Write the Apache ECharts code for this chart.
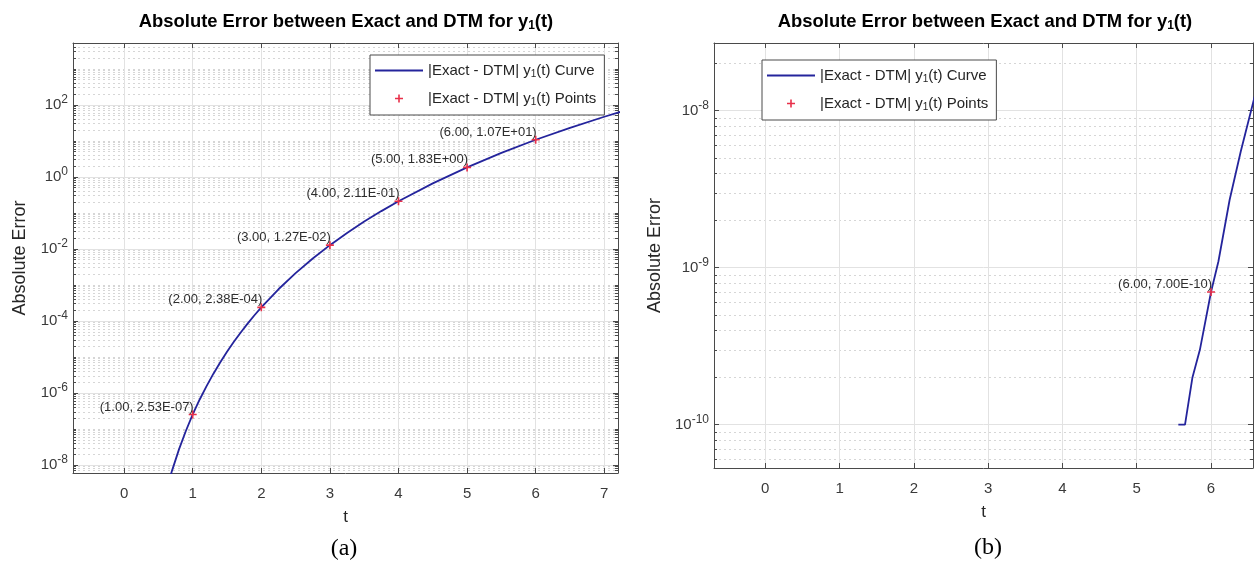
<!DOCTYPE html>
<html>
<head>
<meta charset="utf-8">
<script src="https://cdn.jsdelivr.net/npm/echarts@6/dist/echarts.min.js"></script>
<style>
  html, body { margin: 0; padding: 0; background: #fff; }
  #chart { width: 1254px; height: 563px; }
</style>
</head>
<body>
<div id="chart"></div>
<script>
// Panel (a): |Exact - DTM| error of y1(t) over the whole interval
const tCurveA = [0.65, 0.7, 0.8, 0.9, 1.0, 1.1, 1.2, 1.3, 1.4, 1.5, 1.6, 1.7, 1.8, 1.9, 2.0,
                 2.25, 2.5, 2.75, 3.0, 3.25, 3.5, 3.75, 4.0, 4.5, 5.0, 5.5, 6.0, 6.5, 7.0, 7.25];
const errCurveA = [3.4e-9, 7.1e-9, 2.72e-8, 8.8e-8, 2.53e-7, 6.49e-7, 1.53e-6, 3.38e-6, 7.03e-6, 1.39e-5,
                   2.63e-5, 4.79e-5, 8.41e-5, 1.44e-4, 2.38e-4,
                   7.57e-4, 2.13e-3, 5.42e-3, 1.27e-2, 2.77e-2, 5.73e-2, 0.112, 0.211, 0.659, 1.83,
                   4.61, 10.7, 23.0, 46.6, 65.2];
const tPointsA = [1, 2, 3, 4, 5, 6];
const errPointsA = [2.53e-7, 2.38e-4, 1.27e-2, 2.11e-1, 1.83, 10.7];

// Panel (b): the same error near the 1e-10 level
const tCurveB = [5.56, 5.65, 5.75, 5.85, 6.0, 6.1, 6.25, 6.4, 6.6];
const errCurveB = [1e-10, 1e-10, 2e-10, 3e-10, 7e-10, 1.1e-9, 2.7e-9, 5.5e-9, 1.3e-8];
const tPointsB = [6];
const errPointsB = [7.00e-10];

// Tick positions
const xTicksA = [0, 1, 2, 3, 4, 5, 6, 7];
const xTicksB = [0, 1, 2, 3, 4, 5, 6];
const yTicksA = [1e-8, 1e-6, 1e-4, 1e-2, 1, 1e2];
const yTicksB = [1e-10, 1e-9, 1e-8];

const curveName = '|Exact - DTM| y1(t) Curve';
const pointsName = '|Exact - DTM| y1(t) Points';
const titleText = 'Absolute Error between Exact and DTM for y{sub|1}(t)';

const FONT = '"Liberation Sans", Arial, Helvetica, sans-serif';
const axisColor = '#4a4a4a';
const labelColor = '#3a3a3a';
const majorGrid = '#e2e2e2';
const minorGrid = '#d6d6d6';
const curveColor = '#24249c';
const pointColor = '#e8304a';
const plusPath = 'path://M3.2,0h1.6v8h-1.6z M0,3.2h8v1.6h-8z';
const lineIcon = 'path://M0,0h48v1.8h-48z';

// log-axis minor grid positions (2..9 x 10^k plus unlabelled decades)
function minorValues(lo, hi, majors) {
  const out = [];
  for (let k = Math.floor(Math.log10(lo)); k <= Math.ceil(Math.log10(hi)); k++) {
    for (let m = 1; m <= 9; m++) {
      const v = m * Math.pow(10, k);
      if (v >= lo && v <= hi && !majors.some(x => Math.abs(x / v - 1) < 1e-9)) out.push(v);
    }
  }
  return out;
}

function sciLabel(t, v) {
  const s = v.toExponential(2).toUpperCase();
  const [mant, exp] = s.split('E');
  const e = parseInt(exp, 10);
  const es = (e < 0 ? '-' : '+') + String(Math.abs(e)).padStart(2, '0');
  return '(' + t.toFixed(2) + ', ' + mant + 'E' + es + ')';
}

function pairs(xs, ys) { return xs.map((x, i) => [x, ys[i]]); }

const powRich = {
  base: { fontSize: 15, fontFamily: FONT, color: labelColor },
  sup: { fontSize: 12, fontFamily: FONT, color: labelColor, padding: [0, 0, 10, 0] }
};
function powFormatter(v) {
  const e = Math.round(Math.log10(v));
  return '{base|10}{sup|' + e + '}';
}

function buildAxes(g, xr, yr, xTicks, yTicks, yNameGap) {
  const minors = minorValues(yr[0], yr[1], yTicks);
  const line = { color: axisColor, width: 1 };
  const xs = [
    {
      gridIndex: g, type: 'value', position: 'bottom', min: xr[0], max: xr[1],
      axisLine: { onZero: false, lineStyle: line },
      axisTick: { inside: true, length: 5, customValues: xTicks, lineStyle: line },
      axisLabel: { customValues: xTicks, fontSize: 15, fontFamily: FONT, color: labelColor, margin: 13 },
      splitLine: { show: true, lineStyle: { color: majorGrid, width: 1 } },
      name: 't', nameLocation: 'middle', nameGap: 36,
      nameTextStyle: { fontSize: 17, fontFamily: FONT, color: '#262626' }
    },
    {
      gridIndex: g, type: 'value', position: 'top', min: xr[0], max: xr[1],
      axisLine: { show: true, onZero: false, lineStyle: line },
      axisTick: { inside: true, length: 5, customValues: xTicks, lineStyle: line },
      axisLabel: { show: false }, splitLine: { show: false }
    }
  ];
  const ys = [
    {
      gridIndex: g, type: 'log', position: 'left', min: yr[0], max: yr[1],
      axisLine: { show: true, onZero: false, lineStyle: line },
      axisTick: { show: true, inside: true, length: 5, customValues: yTicks, lineStyle: line },
      axisLabel: { customValues: yTicks, formatter: powFormatter, rich: powRich, margin: 5 },
      splitLine: { show: true, lineStyle: { color: majorGrid, width: 1 } },
      name: 'Absolute Error', nameLocation: 'middle', nameGap: yNameGap,
      nameTextStyle: { fontSize: 18, fontFamily: FONT, color: '#262626' }
    },
    {
      gridIndex: g, type: 'log', position: 'left', min: yr[0], max: yr[1],
      axisLine: { show: false, onZero: false },
      axisTick: { show: true, inside: true, length: 3, customValues: minors, lineStyle: line },
      axisLabel: { show: false },
      splitLine: { show: true, lineStyle: { color: minorGrid, width: 1, type: [2, 3] } }
    },
    {
      gridIndex: g, type: 'log', position: 'right', min: yr[0], max: yr[1],
      axisLine: { show: true, onZero: false, lineStyle: line },
      axisTick: { show: true, inside: true, length: 5, customValues: yTicks, lineStyle: line },
      axisLabel: { show: false }, splitLine: { show: false }
    },
    {
      gridIndex: g, type: 'log', position: 'right', min: yr[0], max: yr[1],
      axisLine: { show: false, onZero: false },
      axisTick: { show: true, inside: true, length: 3, customValues: minors, lineStyle: line },
      axisLabel: { show: false }, splitLine: { show: false }
    }
  ];
  return { xs, ys };
}

const axA = buildAxes(0, [-0.745, 7.2], [6e-9, 5.2e3], xTicksA, yTicksA, 44);
const axB = buildAxes(1, [-0.69, 6.565], [5.3e-11, 2.7e-8], xTicksB, yTicksB, 50);

function curveSeries(xi, yi, xs, ys) {
  return {
    type: 'line', name: curveName, xAxisIndex: xi, yAxisIndex: yi,
    data: pairs(xs, ys), symbol: 'none', showSymbol: false, clip: true,
    lineStyle: { color: curveColor, width: 1.8 }, itemStyle: { color: curveColor },
    z: 3, silent: true
  };
}
function pointSeries(xi, yi, xs, ys) {
  return {
    type: 'scatter', name: pointsName, xAxisIndex: xi, yAxisIndex: yi,
    data: pairs(xs, ys), symbol: plusPath, symbolSize: 8, clip: true,
    itemStyle: { color: pointColor, opacity: 1 }, z: 4, silent: true,
    label: {
      show: true, position: [4, 4], align: 'right', verticalAlign: 'bottom', offset: [1, -1],
      fontSize: 13, fontFamily: FONT, color: '#2e2e2e',
      formatter: p => sciLabel(p.value[0], p.value[1])
    }
  };
}

const legendBase = {
  orient: 'vertical', itemWidth: 48, itemHeight: 8, itemGap: 12,
  padding: [8, 8, 8, 5], borderColor: axisColor, borderWidth: 1, borderRadius: 0,
  backgroundColor: '#fff', selectedMode: false,
  data: [{ name: curveName, icon: lineIcon }, { name: pointsName }],
  formatter: n => n.replace('y1(t)', 'y{sub|1}(t)'),
  textStyle: {
    fontSize: 15, fontFamily: FONT, color: '#262626',
    rich: { sub: { fontSize: 10, fontFamily: FONT, color: '#262626', padding: [7, 0, 0, 0] } }
  }
};

const titleRich = { sub: { fontSize: 12, fontWeight: 'bold', fontFamily: FONT, fill: '#000', padding: [8, 0, 0, 0] } };

const option = {
  animation: false,
  backgroundColor: '#fff',
  grid: [
    { left: 73, right: 636, top: 43, bottom: 90, containLabel: false },
    { left: 714, right: 1, top: 43, bottom: 95, containLabel: false }
  ],
  xAxis: axA.xs.concat(axB.xs),
  yAxis: axA.ys.concat(axB.ys),
  legend: [
    Object.assign({}, legendBase, { left: 370, top: 55 }),
    Object.assign({}, legendBase, { left: 762, top: 60 })
  ],
  graphic: [
    { type: 'text', x: 346, y: 22, style: { text: titleText, rich: titleRich, fontSize: 18.4, fontWeight: 'bold', fontFamily: FONT, fill: '#000', align: 'center', verticalAlign: 'middle' } },
    { type: 'text', x: 985, y: 22, style: { text: titleText, rich: titleRich, fontSize: 18.4, fontWeight: 'bold', fontFamily: FONT, fill: '#000', align: 'center', verticalAlign: 'middle' } },
    { type: 'text', x: 344, y: 549, style: { text: '(a)', fontSize: 24, fontFamily: '"Liberation Serif", "Times New Roman", serif', fill: '#000', align: 'center', verticalAlign: 'middle' } },
    { type: 'text', x: 988, y: 548, style: { text: '(b)', fontSize: 24, fontFamily: '"Liberation Serif", "Times New Roman", serif', fill: '#000', align: 'center', verticalAlign: 'middle' } }
  ],
  series: [
    curveSeries(0, 0, tCurveA, errCurveA),
    pointSeries(0, 0, tPointsA, errPointsA),
    curveSeries(2, 4, tCurveB, errCurveB),
    pointSeries(2, 4, tPointsB, errPointsB)
  ]
};

const chart = echarts.init(document.getElementById('chart'), null, { renderer: 'canvas' });
chart.setOption(option);
</script>
</body>
</html>
